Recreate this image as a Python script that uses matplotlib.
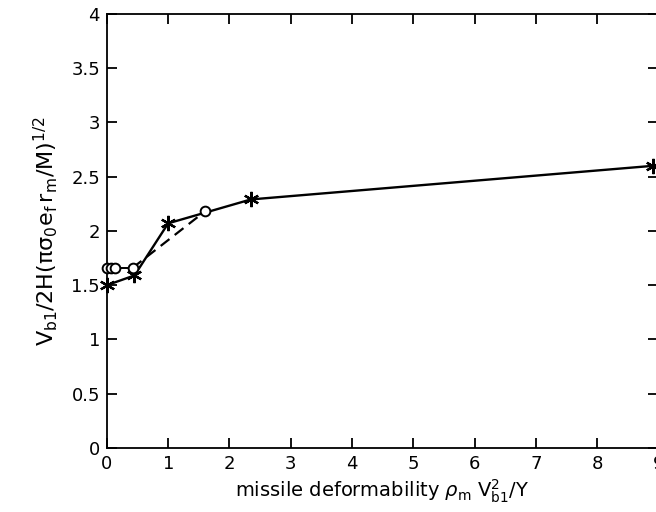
import matplotlib
matplotlib.use("Agg")
import matplotlib.pyplot as plt

# star series (solid line)
star_x = [0.0, 0.45, 1.0, 2.35, 8.92]
star_y = [1.50, 1.59, 2.07, 2.29, 2.60]

# open circle series: short solid run, then dashed up to the last point
circ_x = [0.0, 0.06, 0.13, 0.42]
circ_y = [1.66, 1.66, 1.66, 1.66]
dash_x = [0.42, 1.6]
dash_y = [1.66, 2.18]
circ_last_x = [1.6]
circ_last_y = [2.18]

x_ticks = list(range(0, 10))
y_ticks = [0, 0.5, 1, 1.5, 2, 2.5, 3, 3.5, 4]
y_tick_labels = ["0", "0.5", "1", "1.5", "2", "2.5", "3", "3.5", "4"]

plt.rcParams["font.family"] = ["DejaVu Sans"]
plt.rcParams["mathtext.fontset"] = "dejavusans"

fig = plt.figure(figsize=(6.56, 5.12), dpi=100)
ax = fig.add_axes([0.163, 0.125, 0.8405, 0.848])

ax.plot(star_x, star_y, color="black", linewidth=1.7, marker=(6, 2, 0),
        markersize=11, markeredgewidth=1.6, zorder=3, clip_on=False)
ax.plot(circ_x, circ_y, color="black", linewidth=1.4, marker="o",
        markersize=7, markerfacecolor="white", markeredgewidth=1.4, zorder=4,
        clip_on=False)
ax.plot(dash_x, dash_y, color="black", linewidth=1.6, linestyle=(0, (5, 3)),
        zorder=2)
ax.plot(circ_last_x, circ_last_y, linestyle="none", marker="o", color="black",
        markersize=7, markerfacecolor="white", markeredgewidth=1.4, zorder=4)

ax.set_xlim(0, 9)
ax.set_ylim(0, 4)
ax.set_xticks(x_ticks)
ax.set_yticks(y_ticks)
ax.set_yticklabels(y_tick_labels)
ax.tick_params(direction="in", length=7, width=1.3, top=True, right=True,
               labelsize=13, pad=5)
for s in ax.spines.values():
    s.set_linewidth(1.3)
# the right frame line falls just past the edge of the original scan
ax.spines["right"].set_visible(False)

ax.set_xlabel(r"missile deformability $\rho_\mathrm{m}\ \mathrm{V_{b1}^{2}/Y}$",
              fontsize=14, labelpad=3)
ax.set_ylabel(r"$\mathrm{V_{b1}/2H(\pi\sigma_0 e_f\, r_m/M)^{1/2}}$",
              fontsize=16, labelpad=8)

fig.savefig("out.png", dpi=100)
